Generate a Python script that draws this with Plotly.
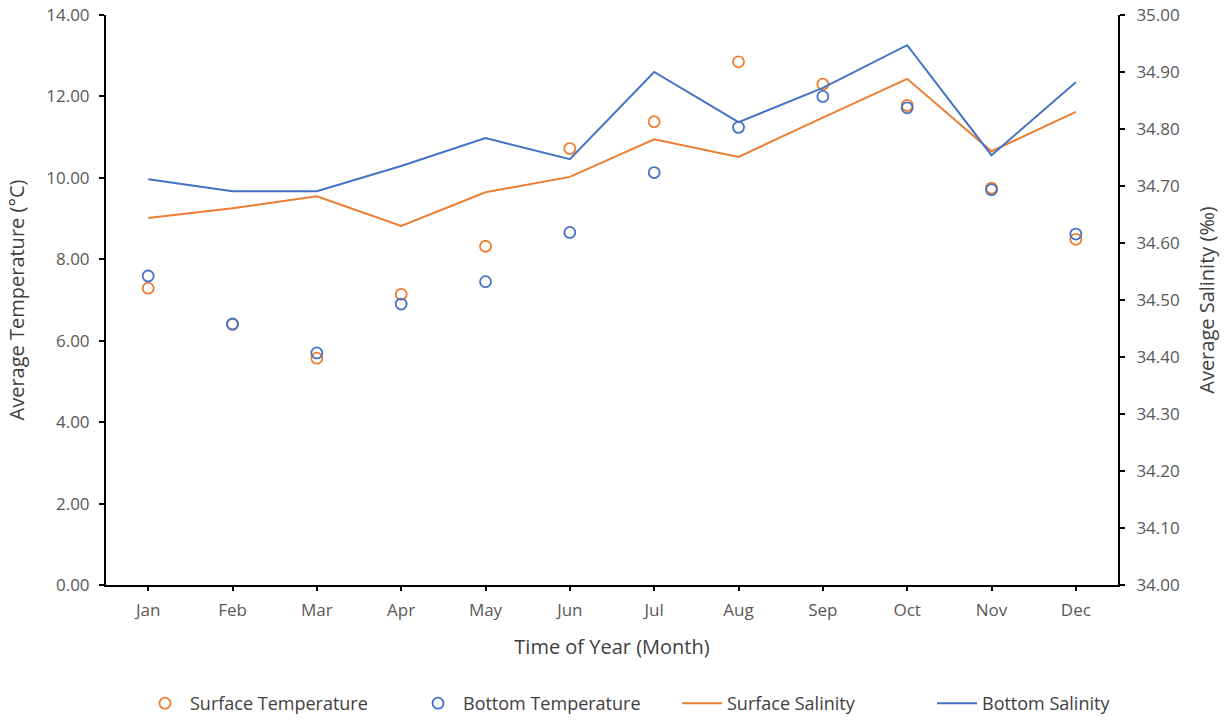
import plotly.graph_objects as go

months = ["Jan", "Feb", "Mar", "Apr", "May", "Jun", "Jul", "Aug", "Sep", "Oct", "Nov", "Dec"]
surface_temp = [7.29, 6.40, 5.57, 7.14, 8.32, 10.72, 11.38, 12.85, 12.30, 11.78, 9.75, 8.49]
bottom_temp = [7.59, 6.41, 5.70, 6.90, 7.45, 8.66, 10.13, 11.24, 12.00, 11.72, 9.71, 8.62]
surface_sal = [34.644, 34.661, 34.682, 34.630, 34.689, 34.716, 34.782, 34.751, 34.820, 34.888, 34.761, 34.830]
bottom_sal = [34.712, 34.691, 34.691, 34.735, 34.784, 34.747, 34.900, 34.812, 34.872, 34.947, 34.754, 34.882]

temp_ticks = [0, 2, 4, 6, 8, 10, 12, 14]
sal_ticks = [34.0, 34.1, 34.2, 34.3, 34.4, 34.5, 34.6, 34.7, 34.8, 34.9, 35.0]

ORANGE = "#ED7D31"
BLUE = "#4472C4"
FONT = "Open Sans"
TXT = "#595959"

fig = go.Figure()
fig.add_trace(go.Scatter(x=months, y=surface_temp, mode="markers", name="Surface Temperature",
                         legend="legend",
                         marker=dict(symbol="circle-open", size=11, color=ORANGE, line=dict(width=1.8))))
fig.add_trace(go.Scatter(x=months, y=bottom_temp, mode="markers", name="Bottom Temperature",
                         legend="legend",
                         marker=dict(symbol="circle-open", size=11, color=BLUE, line=dict(width=1.8))))
fig.add_trace(go.Scatter(x=months, y=surface_sal, mode="lines", name="Surface Salinity", yaxis="y2",
                         legend="legend2", line=dict(color=ORANGE, width=2)))
fig.add_trace(go.Scatter(x=months, y=bottom_sal, mode="lines", name="Bottom Salinity", yaxis="y2",
                         legend="legend2", line=dict(color=BLUE, width=2)))

legend_common = dict(orientation="h", xref="container", xanchor="left",
                     yref="container", y=-0.005, yanchor="bottom",
                     font=dict(size=18, color="#404040"), traceorder="normal", itemwidth=40)

fig.update_layout(
    width=1227, height=722,
    margin=dict(l=106, r=109, t=15, b=137),
    paper_bgcolor="white", plot_bgcolor="white",
    font=dict(family=FONT, size=17, color=TXT),
    showlegend=True,
    legend=dict(x=140 / 1227, entrywidth=218, **legend_common),
    legend2=dict(x=677 / 1227, entrywidth=200, **legend_common),
    xaxis=dict(
        type="category", categoryorder="array", categoryarray=months, range=[-0.5, 11.5],
        automargin=False,
        showline=True, linecolor="black", linewidth=2, ticks="outside", ticklen=4,
        tickcolor="black", tickwidth=2, showgrid=False, zeroline=False, ticklabelstandoff=5,
        title=dict(text="Time of Year (Month)", font=dict(size=20, color="#404040"), standoff=20),
        tickfont=dict(size=17, color=TXT),
    ),
    yaxis=dict(
        range=[0, 14], tickvals=temp_ticks, ticktext=[f"{v:.2f}" for v in temp_ticks],
        automargin=False, ticklabeloverflow="allow",
        showline=True, linecolor="black", linewidth=2, ticks="outside", ticklen=5,
        tickcolor="black", tickwidth=2, showgrid=False, zeroline=False, ticklabelstandoff=6,
        title=dict(text="Average Temperature (°C)", font=dict(size=20, color="#404040"), standoff=16),
        tickfont=dict(size=17, color=TXT),
    ),
    yaxis2=dict(
        range=[34.0, 35.0], overlaying="y", side="right", tickvals=sal_ticks,
        ticktext=[f"{v:.2f}" for v in sal_ticks], automargin=False, ticklabeloverflow="allow",
        showline=True, linecolor="black", linewidth=2, ticks="outside", ticklen=5,
        tickcolor="black", tickwidth=2, showgrid=False, zeroline=False, ticklabelstandoff=8,
        title=dict(text="Average Salinity (‰)", font=dict(size=20, color="#404040"), standoff=21),
        tickfont=dict(size=17, color=TXT),
    ),
)

fig.write_html("out.html", config={"displayModeBar": False},
               post_script="document.body.style.margin='0px';")
